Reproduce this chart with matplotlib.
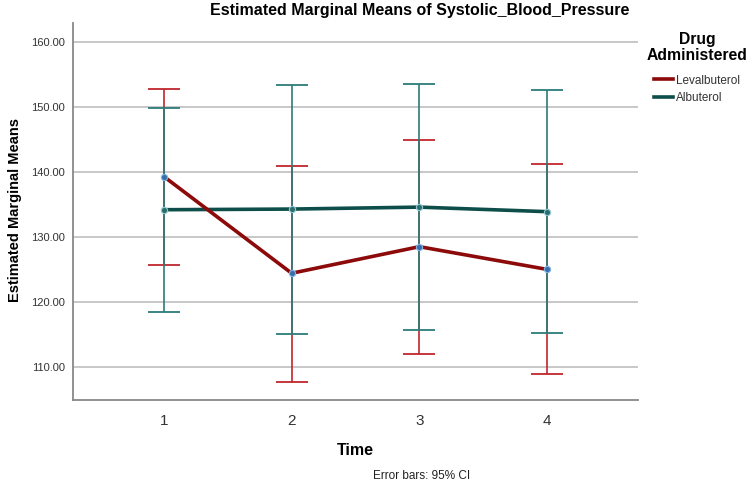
import matplotlib.pyplot as plt
from matplotlib.lines import Line2D

plt.rcParams['font.family'] = ['Liberation Sans', 'DejaVu Sans']

time = [1, 2, 3, 4]
time_labels = ['1', '2', '3', '4']
leva_mean = [139.3, 124.4, 128.5, 125.0]
leva_low = [125.7, 107.7, 112.0, 108.8]
leva_high = [152.8, 141.0, 144.9, 141.2]
albu_mean = [134.2, 134.3, 134.6, 133.9]
albu_low = [118.5, 115.1, 115.6, 115.2]
albu_high = [149.9, 153.5, 153.6, 152.6]
yticks = [110, 120, 130, 140, 150, 160]

fig = plt.figure(figsize=(7.53, 4.9), dpi=100)
ax = fig.add_axes([73 / 753, 1 - 400 / 490, 565 / 753, 377 / 490])

red_line = '#8c0a0a'
red_err = '#c0262c'
teal_line = '#0d4e4a'
teal_err = '#2b7c7a'

# error bars (red first so teal sits on top where they overlap)
ax.errorbar(time, leva_mean,
            yerr=[[m - l for m, l in zip(leva_mean, leva_low)],
                  [h - m for m, h in zip(leva_mean, leva_high)]],
            fmt='none', ecolor=red_err, elinewidth=1.2, capsize=11.5, capthick=1.3, zorder=2)
ax.errorbar(time, albu_mean,
            yerr=[[m - l for m, l in zip(albu_mean, albu_low)],
                  [h - m for m, h in zip(albu_mean, albu_high)]],
            fmt='none', ecolor=teal_err, elinewidth=1.2, capsize=11.5, capthick=1.3, zorder=3)

ax.plot(time, albu_mean, color=teal_line, lw=2.6, zorder=4,
        marker='o', ms=4.5, mfc='#2e6e6a', mec='#8fc9d8', mew=0.8)
ax.plot(time, leva_mean, color=red_line, lw=2.6, zorder=5,
        marker='o', ms=4.5, mfc='#3a6fa8', mec='#7fb6e6', mew=0.8)

ax.set_xlim(0.287, 4.713)
ax.set_ylim(104.85, 163)
ax.set_yticks(yticks)
ax.set_yticklabels(['%.2f' % v for v in yticks], fontsize=8, color='#333333')
ax.set_xticks(time)
ax.set_xticklabels(time_labels, fontsize=11, color='#333333')
ax.tick_params(axis='both', length=0, pad=6)
ax.tick_params(axis='x', pad=10)
ax.yaxis.grid(True, color='#c8c8c8', lw=1.4)
ax.set_axisbelow(True)
for s in ['top', 'right']:
    ax.spines[s].set_visible(False)
for s in ['left', 'bottom']:
    ax.spines[s].set_color('#888888')
    ax.spines[s].set_linewidth(1.3)

fig.text(420 / 753, 1 - 11 / 490, 'Estimated Marginal Means of Systolic_Blood_Pressure',
         ha='center', va='center', fontsize=11.5, fontweight='bold')
fig.text(15 / 753, 1 - 210 / 490, 'Estimated Marginal Means', rotation=90,
         ha='center', va='center', fontsize=10.5, fontweight='bold')
fig.text(355 / 753, 1 - 450 / 490, 'Time', ha='center', va='center',
         fontsize=11.5, fontweight='bold')
fig.text(422 / 753, 1 - 476 / 490, 'Error bars: 95% CI', ha='center', va='center',
         fontsize=8.5, color='#222222')

handles = [Line2D([], [], color=red_line, lw=2.6), Line2D([], [], color=teal_line, lw=2.6)]
leg = fig.legend(handles, ['Levalbuterol', 'Albuterol'], title='Drug\nAdministered',
                 loc='upper left', bbox_to_anchor=(636 / 753, 1 - 21 / 490),
                 frameon=False, fontsize=8.5, handlelength=1.6, handletextpad=0.3,
                 labelspacing=0.45, title_fontproperties={'weight': 'bold', 'size': 11.3})
leg.get_title().set_multialignment('center')
leg.get_title().set_linespacing(1.15)
leg._legend_box.sep = 8
for t in leg.get_texts():
    t.set_color('#333333')

fig.savefig('out.png', dpi=100)
